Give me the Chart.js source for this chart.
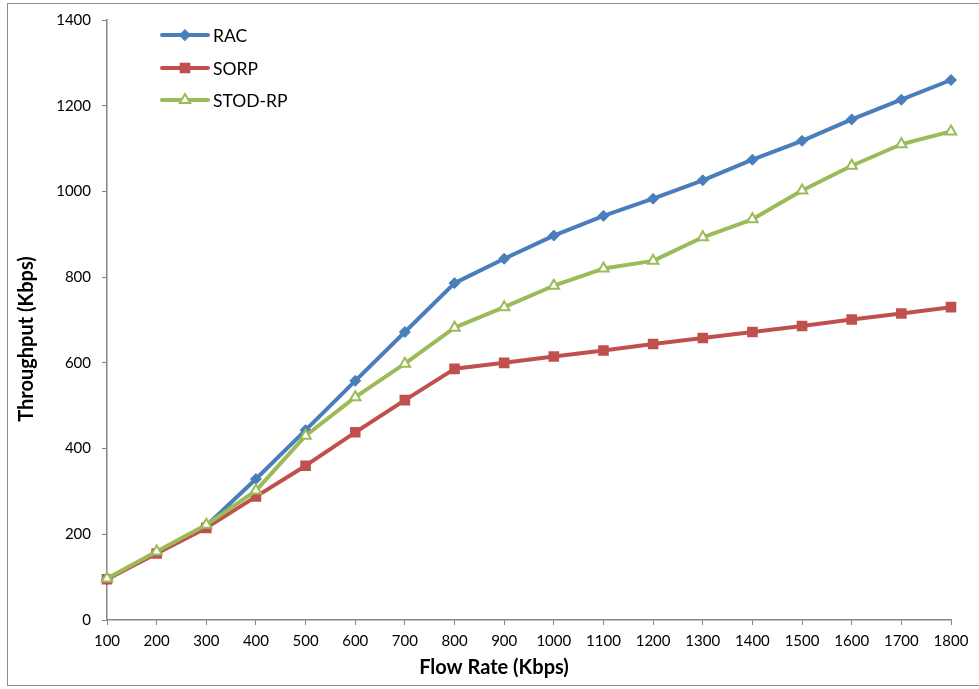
<!DOCTYPE html>
<html>
<head>
<meta charset="utf-8">
<script src="https://cdn.jsdelivr.net/npm/chart.js@4.4.1/dist/chart.umd.min.js"></script>
<style>
  html, body { margin:0; padding:0; background:#fff; }
  #wrap { position:relative; width:979px; height:689px; overflow:hidden; }
  #frame { position:absolute; left:7px; top:3px; width:1000px; height:683px; border:1px solid #8c8c8c; box-sizing:border-box; }
  canvas { position:absolute; left:0; top:0; }
</style>
</head>
<body>
<div id="wrap">
  <div id="frame"></div>
  <canvas id="c" width="979" height="689"></canvas>
</div>
<script>
'use strict';

const flowRates = ['100','200','300','400','500','600','700','800','900','1000','1100','1200','1300','1400','1500','1600','1700','1800'];
const racValues  = [95, 158, 220, 329, 443, 558, 672, 786, 843, 897, 943, 983, 1026, 1074, 1118, 1168, 1214, 1260];
const sorpValues = [95, 155, 215, 288, 360, 438, 513, 586, 600, 615, 629, 644, 658, 672, 686, 701, 715, 730];
const stodValues = [97, 160, 222, 302, 430, 520, 598, 682, 730, 780, 820, 838, 893, 935, 1002, 1060, 1110, 1140];
const yTicks = [0, 200, 400, 600, 800, 1000, 1200, 1400];

const FONT = 'Lato, "Open Sans", sans-serif';
const AX = '#868686';

// legend + axis titles drawn by hand, Excel style
const extras = {
    id:'extras',
    afterDraw(chart){
        const ctx = chart.ctx;
        ctx.save();
        // legend
        const lx0 = 162, lx1 = 208, rows = [35, 68, 100];
        chart.data.datasets.forEach((ds, i) => {
            const y = rows[i];
            ctx.strokeStyle = ds.borderColor; ctx.lineWidth = 4; ctx.lineCap = 'round';
            ctx.beginPath(); ctx.moveTo(lx0, y); ctx.lineTo(lx1, y); ctx.stroke();
            ctx.fillStyle = ds.pointBackgroundColor; ctx.strokeStyle = ds.pointBorderColor; ctx.lineWidth = ds.pointBorderWidth;
            Chart.helpers.drawPoint(ctx, { pointStyle:ds.pointStyle, radius:ds.pointRadius, borderWidth:ds.pointBorderWidth, rotation:0 }, (lx0+lx1)/2, y);
            ctx.fillStyle = '#000'; ctx.font = '17.5px ' + FONT; ctx.textBaseline = 'middle'; ctx.textAlign = 'left';
            ctx.fillText(ds.label, 213, y + 1);
        });
        // axis titles
        ctx.fillStyle = '#000'; ctx.font = 'bold 20px ' + FONT; ctx.textAlign = 'center'; ctx.textBaseline = 'middle';
        ctx.fillText('Flow Rate (Kbps)', 494, 668);
        ctx.translate(27, 339); ctx.rotate(-Math.PI/2);
        ctx.fillText('Throughput (Kbps)', 0, 0);
        ctx.restore();
    }
};

new Chart(document.getElementById('c').getContext('2d'), {
    type:'line',
    data:{
        labels:flowRates,
        datasets:[
            { label:'RAC', data:racValues, borderColor:'#4a7ebb', backgroundColor:'#4a7ebb', borderWidth:4,
              pointStyle:'rectRot', pointRadius:5.5, pointBackgroundColor:'#4a7ebb', pointBorderColor:'#4a7ebb', pointBorderWidth:1, order:3 },
            { label:'SORP', data:sorpValues, borderColor:'#c0504d', backgroundColor:'#c0504d', borderWidth:4,
              pointStyle:'rect', pointRadius:7.5, pointBackgroundColor:'#c0504d', pointBorderColor:'#c0504d', pointBorderWidth:0, order:2 },
            { label:'STOD-RP', data:stodValues, borderColor:'#9bbb59', backgroundColor:'#9bbb59', borderWidth:4,
              pointStyle:'triangle', pointRadius:6, pointBackgroundColor:'#ffffff', pointBorderColor:'#9bbb59', pointBorderWidth:2, order:1 }
        ]
    },
    options:{
        responsive:false, animation:false, devicePixelRatio:1,
        layout:{ padding:{ left:0, right:28, top:19, bottom:0 } },
        plugins:{ legend:{ display:false }, tooltip:{ enabled:false } },
        elements:{ line:{ tension:0, borderJoinStyle:'round' } },
        scales:{
            x:{ offset:false,
                grid:{ display:true, drawOnChartArea:false, drawTicks:true, tickLength:5, color:AX },
                border:{ display:true, color:AX, width:1.5 },
                ticks:{ color:'#000', font:{ family:FONT, size:15 }, padding:7, maxRotation:0, autoSkip:false },
                afterFit(s){ s.height = 69; } },
            y:{ min:0, max:1400,
                afterBuildTicks(s){ s.ticks = yTicks.map(v => ({ value:v })); },
                grid:{ display:true, drawOnChartArea:false, drawTicks:true, tickLength:5, color:AX },
                border:{ display:true, color:AX, width:1.5 },
                ticks:{ color:'#000', font:{ family:FONT, size:15 }, padding:11, callback:v => String(v) },
                afterFit(s){ s.width = 107; } }
        }
    },
    plugins:[extras]
});
</script>
</body>
</html>
